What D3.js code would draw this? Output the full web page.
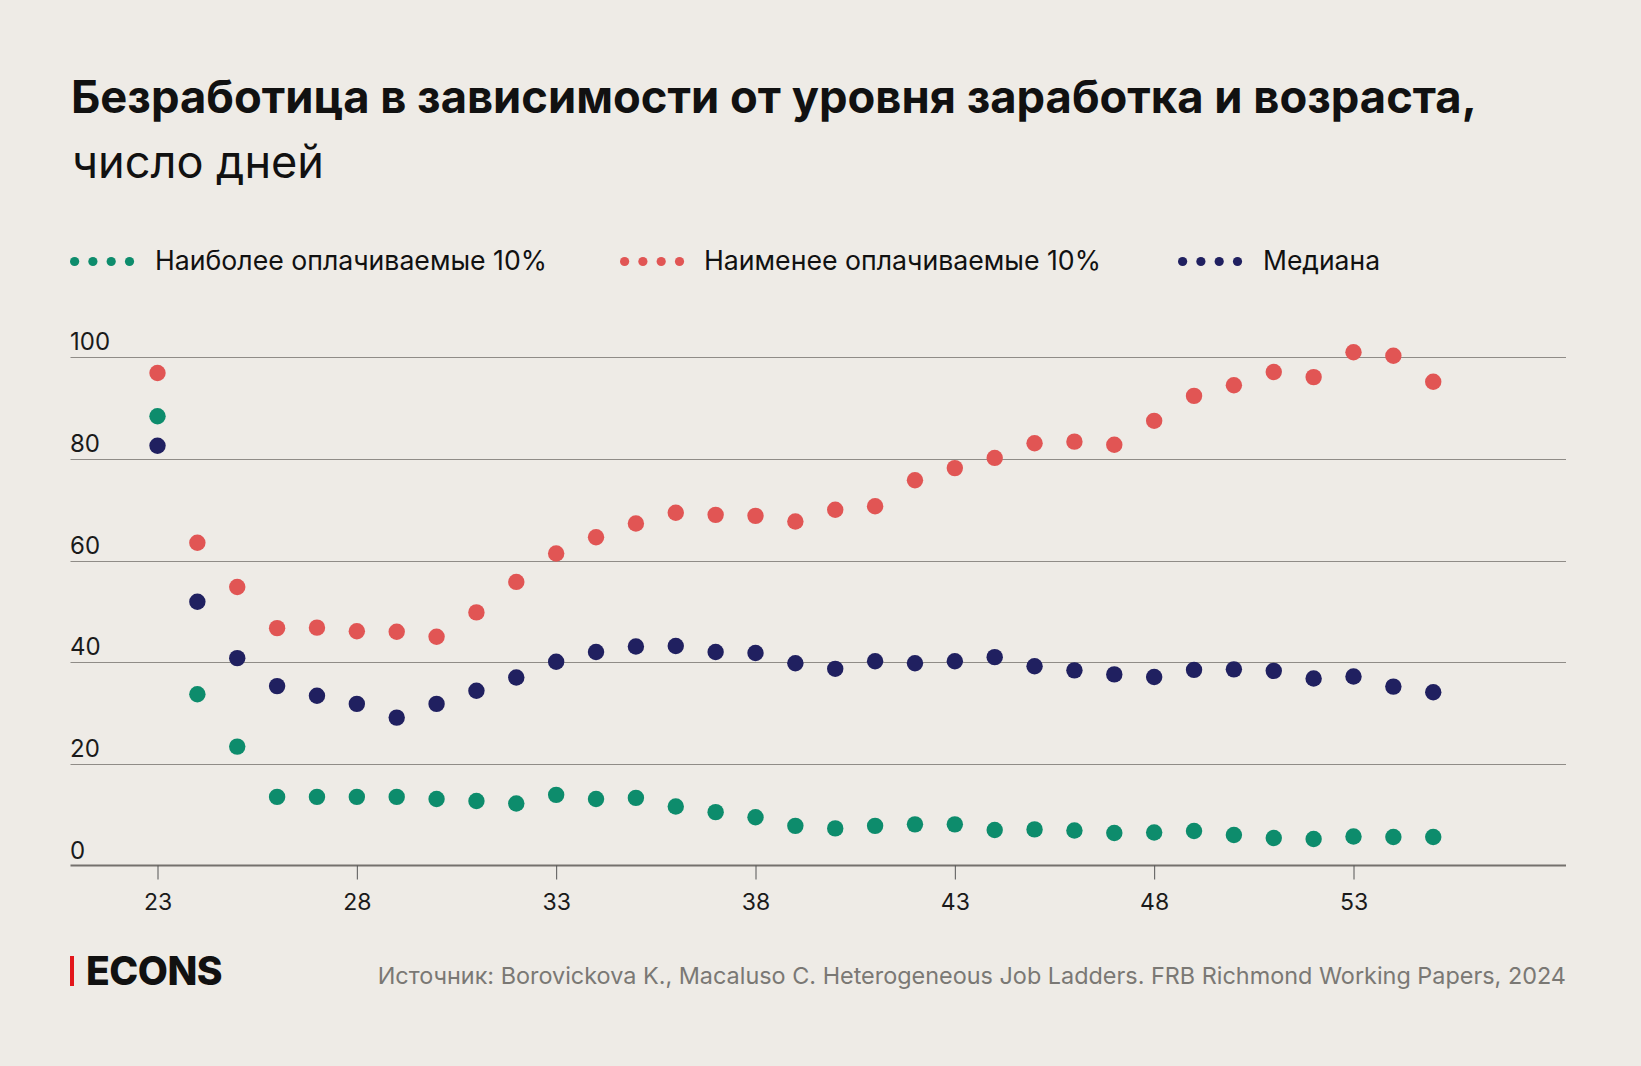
<!DOCTYPE html>
<html>
<head>
<meta charset="utf-8">
<script src="https://cdn.jsdelivr.net/npm/d3@7/dist/d3.min.js"></script>
<style>
  html, body { margin: 0; padding: 0; background: #eeebe6; }
  svg { display: block; }
  text { font-family: Inter, "Noto Sans", sans-serif; }
</style>
</head>
<body>
<svg id="chart" width="1641" height="1066"></svg>
<script>
// ---- data ----
const ages = [23,24,25,26,27,28,29,30,31,32,33,34,35,36,37,38,39,40,41,42,43,44,45,46,47,48,49,50,51,52,53,54,55];
const topPaid = [88.4,33.7,23.4,13.5,13.5,13.5,13.5,13.1,12.7,12.2,13.9,13.1,13.3,11.6,10.5,9.5,7.8,7.3,7.8,8.1,8.1,7.0,7.1,6.9,6.4,6.5,6.8,6.0,5.4,5.2,5.7,5.6,5.6];
const lowPaid = [96.9,63.5,54.8,46.7,46.8,46.1,46.0,45.0,49.8,55.8,61.4,64.6,67.3,69.4,69.0,68.8,67.7,70.0,70.7,75.8,78.2,80.2,83.1,83.4,82.8,87.5,92.4,94.5,97.1,96.1,101.0,100.3,95.2];
const median = [82.6,51.9,40.8,35.3,33.4,31.8,29.1,31.8,34.4,37.0,40.1,42.0,43.1,43.2,42.0,41.8,39.8,38.7,40.2,39.8,40.2,41.0,39.2,38.4,37.6,37.1,38.5,38.6,38.3,36.8,37.2,35.2,34.1];
const yTicks = [0,20,40,60,80,100];
const xTicks = [23,28,33,38,43,48,53];
const seriesNames = ["Наиболее оплачиваемые 10%", "Наименее оплачиваемые 10%", "Медиана"];
const seriesColors = ["#0d8c6c", "#e15554", "#202060"];
const titleText = "Безработица в зависимости от уровня заработка и возраста,";
const subtitleText = "число дней";
const sourceText = "Источник: Borovickova K., Macaluso C. Heterogeneous Job Ladders. FRB Richmond Working Papers, 2024";

const svg = d3.select("#chart");
svg.append("rect").attr("width",1641).attr("height",1066).attr("fill","#eeebe6");

function fitText(sel, width) {
  const node = sel.node();
  const fs = parseFloat(sel.attr("font-size"));
  const w = node.getComputedTextLength();
  sel.attr("font-size", (fs * width / w).toFixed(2));
}

// title
const t1 = svg.append("text").attr("x",71).attr("y",113).attr("font-size",44)
  .attr("font-weight",700).attr("fill","#111").text(titleText);
fitText(t1, 1406);
const t2 = svg.append("text").attr("x",72).attr("y",178).attr("font-size",42)
  .attr("font-weight",400).attr("fill","#111").text(subtitleText);
fitText(t2, 252);

// scales
const plotLeft = 70.5, plotRight = 1566;
const x = d3.scaleLinear().domain([23,53]).range([157.5,1353.5]);
const y = d3.scaleLinear().domain([0,100]).range([865.5,357.3]);

// gridlines
const grid = svg.append("g");
grid.selectAll("line").data(yTicks.filter(d => d !== 0)).join("line")
  .attr("x1",plotLeft).attr("x2",plotRight)
  .attr("y1",d => Math.round(y(d)) + 0.5).attr("y2",d => Math.round(y(d)) + 0.5)
  .attr("stroke","#8f8c87").attr("stroke-width",1);
grid.append("line").attr("x1",plotLeft).attr("x2",plotRight)
  .attr("y1",y(0)).attr("y2",y(0)).attr("stroke","#74716d").attr("stroke-width",2);

// y labels
svg.append("g").selectAll("text").data(yTicks).join("text")
  .attr("x",70).attr("y",d => y(d) - 7)
  .attr("font-size",24).attr("fill","#1a1a1a").text(d => d);

// x axis ticks
const xAxis = d3.axisBottom(x).tickValues(xTicks).tickSize(14).tickPadding(14).tickFormat(d3.format("d"));
const gx = svg.append("g").attr("transform",`translate(0,${y(0)})`).call(xAxis);
gx.select(".domain").remove();
gx.selectAll(".tick line").attr("stroke","#555").attr("stroke-width",1);
gx.selectAll(".tick text").attr("font-size",23).attr("fill","#1a1a1a")
  .attr("font-family","Inter, 'Noto Sans', sans-serif");

// points
const seriesData = [topPaid, lowPaid, median];
seriesData.forEach((vals, i) => {
  svg.append("g").selectAll("circle").data(ages).join("circle")
    .attr("cx",(d) => x(d)).attr("cy",(d, j) => y(vals[j]))
    .attr("r",8.2).attr("fill",seriesColors[i]);
});

// legend
const legendItems = [
  {dotX:70, textX:155, textW:392},
  {dotX:620, textX:704, textW:397},
  {dotX:1178, textX:1263, textW:117}
];
legendItems.forEach((it, i) => {
  const g = svg.append("g");
  g.selectAll("circle").data([0,1,2,3]).join("circle")
    .attr("cx",k => it.dotX + 4.6 + k*18.3).attr("cy",261.5).attr("r",4.6)
    .attr("fill",seriesColors[i]);
  const tt = g.append("text").attr("x",it.textX).attr("y",269.5).attr("font-size",26)
    .attr("fill","#111").text(seriesNames[i]);
  fitText(tt, it.textW);
});

// footer logo
svg.append("rect").attr("x",70).attr("y",956).attr("width",4).attr("height",30).attr("fill","#e3161b");
const logo = svg.append("text").attr("x",86).attr("y",985).attr("font-size",37)
  .attr("font-weight",800).attr("fill","#111").attr("letter-spacing",-0.5).text("ECONS");
fitText(logo, 136);

// source
const src = svg.append("text").attr("x",1566).attr("y",984).attr("text-anchor","end")
  .attr("font-size",23).attr("fill","#7a7874").text(sourceText);
fitText(src, 1189);
</script>
</body>
</html>
